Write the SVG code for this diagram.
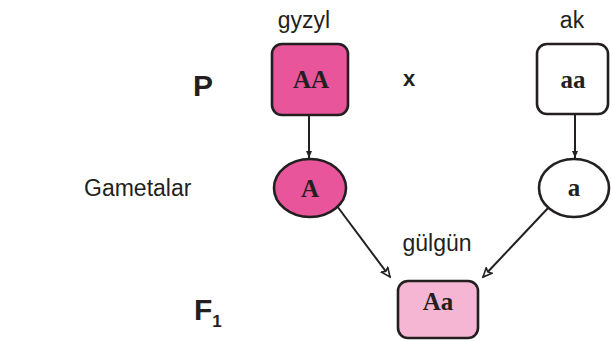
<svg xmlns="http://www.w3.org/2000/svg" width="612" height="341" viewBox="0 0 612 341">
<defs>
<style>
.lbl{font-family:"Liberation Sans",Arial,sans-serif;font-size:23px;fill:#231f20;text-anchor:middle}
.gen{font-family:"Liberation Serif","Times New Roman",serif;font-weight:bold;font-size:25px;fill:#231f20;text-anchor:middle}
.big{font-family:"Liberation Sans",Arial,sans-serif;font-weight:bold;fill:#231f20}
.node{stroke:#231f20;stroke-width:2.6}
.conn{stroke:#231f20;stroke-width:2;fill:none}
</style>
<marker id="ah" markerWidth="12" markerHeight="10" refX="10" refY="5" orient="auto" markerUnits="userSpaceOnUse">
<path d="M1,1 L10,5 L1,9 L3,5 Z" fill="#ffffff" stroke="#231f20" stroke-width="1.6" stroke-linejoin="miter"/>
</marker>
<marker id="ahs" markerWidth="8" markerHeight="8" refX="7" refY="4" orient="auto" markerUnits="userSpaceOnUse">
<path d="M0,1 L7,4 L0,7 Z" fill="#231f20"/>
</marker>
</defs>
<rect width="612" height="341" fill="#ffffff"/>
<g id="row-labels">
<text class="big" x="193" y="96" font-size="30">P</text>
<text class="lbl" x="84" y="196" style="text-anchor:start">Gametalar</text>
<text class="big" x="194" y="320" font-size="30">F<tspan font-size="17" dy="7">1</tspan></text>
<text class="big" x="403" y="86" font-size="22">x</text>
</g>
<g id="connectors">
<line class="conn" x1="309" y1="115" x2="309" y2="158" marker-end="url(#ahs)"/>
<line class="conn" x1="575" y1="114" x2="575" y2="158" marker-end="url(#ahs)"/>
<line class="conn" x1="337" y1="206" x2="390" y2="277" marker-end="url(#ah)"/>
<line class="conn" x1="549" y1="207" x2="483" y2="277" marker-end="url(#ah)"/>
</g>
<g id="node-AA">
<text class="lbl" x="304" y="28">gyzyl</text>
<rect class="node" x="272" y="44" width="76" height="71" rx="10" fill="#e8559b"/>
<text class="gen" x="311" y="88">AA</text>
</g>
<g id="node-aa">
<text class="lbl" x="572" y="28">ak</text>
<rect class="node" x="537" y="44" width="71" height="70" rx="10" fill="#ffffff"/>
<text class="gen" x="573" y="88">aa</text>
</g>
<g id="node-A">
<ellipse class="node" cx="310" cy="188" rx="36" ry="29" fill="#e8559b"/>
<text class="gen" x="310" y="197">A</text>
</g>
<g id="node-a">
<ellipse class="node" cx="574" cy="188" rx="35" ry="29" fill="#ffffff"/>
<text class="gen" x="574" y="196">a</text>
</g>
<g id="node-Aa">
<text class="lbl" x="437" y="251">gülgün</text>
<rect class="node" x="398" y="281" width="80" height="57" rx="10" fill="#f5b6d3"/>
<text class="gen" x="438" y="310">Aa</text>
</g>
</svg>
